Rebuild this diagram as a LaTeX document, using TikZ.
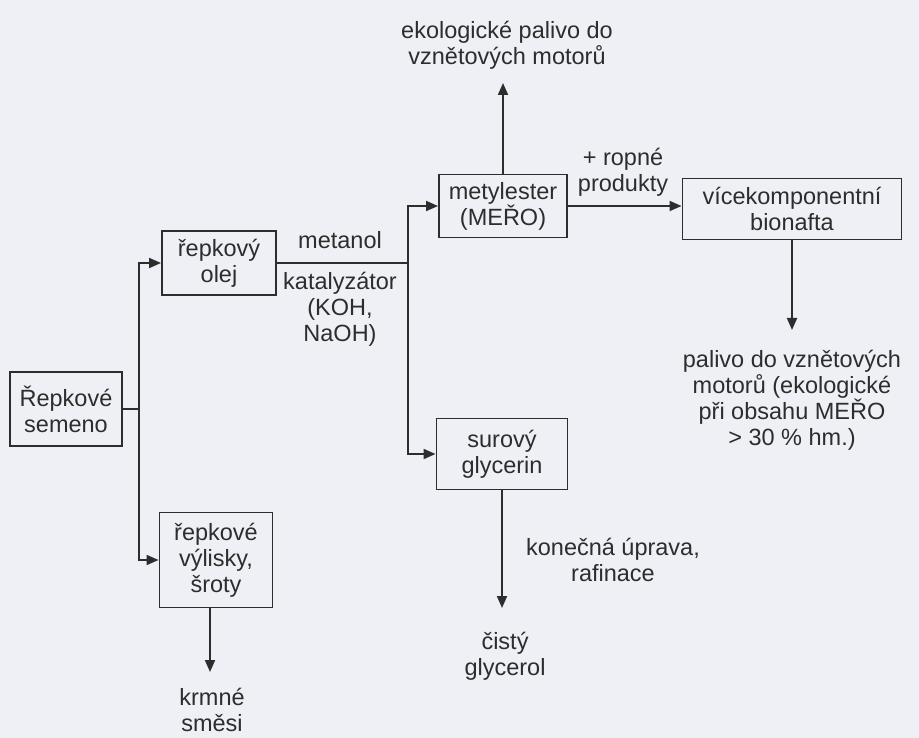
\documentclass[tikz,border=0pt]{standalone}
\usepackage{fontspec}
\setmainfont{Liberation Sans}
\usetikzlibrary{arrows.meta}
\definecolor{bgc}{RGB}{238,240,245}
\definecolor{ink}{RGB}{45,45,45}
\tikzset{
  box/.style={draw=ink, line width=1.9pt, align=center, inner sep=0pt, font=\fontsize{23.5}{26}\selectfont, text=ink},
  lbl/.style={align=center, inner sep=0pt, font=\fontsize{23.5}{26}\selectfont, text=ink},
  conn/.style={draw=ink, line width=1.9pt},
  arr/.style={conn, -{Triangle[length=12pt,width=10pt]}}
}
\begin{document}
\begin{tikzpicture}[x=1pt,y=-1pt]
\fill[bgc] (0,0) rectangle (919,738);
\useasboundingbox (0,0) rectangle (919,738);
% boxes
\node[box, minimum width=112, minimum height=74] (sem) at (66,409) {Řepkové\\semeno};
\node[box, minimum width=114, minimum height=64] (olej) at (219,263) {řepkový\\olej};
\node[box, minimum width=113, minimum height=95] (vyl) at (216,560) {řepkové\\výlisky,\\šroty};
\node[box, minimum width=128, minimum height=63] (mety) at (503,206) {metylester\\(MEŘO)};
\node[box, minimum width=219, minimum height=61] (bion) at (792,209) {vícekomponentní\\bionafta};
\node[box, minimum width=131, minimum height=71] (gly) at (502,454) {surový\\glycerin};
% labels
\node[lbl] (eko) at (507,45) {ekologické palivo do\\vznětových motorů};
\node[lbl] (rop) at (623,172) {+ ropné\\produkty};
\node[lbl] (met) at (340,240) {metanol};
\node[lbl] (kat) at (340,309) {katalyzátor\\(KOH,\\NaOH)};
\node[lbl] (pal) at (792,400) {palivo do vznětových\\motorů (ekologické\\při obsahu MEŘO\\> 30 \% hm.)};
\node[lbl] (kon) at (613,560) {konečná úprava,\\rafinace};
\node[lbl] (cis) at (505,656) {čistý\\glycerol};
\node[lbl] (krm) at (212,710) {krmné\\směsi};
% junctions and free ends
\coordinate (j1) at (139,409);
\coordinate (j2) at (408,263);
\coordinate (e1) at (503,83);
\coordinate (e2) at (792,330);
\coordinate (e3) at (502,608);
\coordinate (e4) at (210,672);
% connectors
\draw[conn] (sem.east) -- (j1);
\draw[arr] (j1) |- (olej.west);
\draw[arr] (j1) |- (vyl.west);
\draw[conn] (olej.east) -- (j2);
\draw[arr] (j2) |- (mety.west);
\draw[arr] (j2) |- (gly.west);
\draw[arr] (mety.north) -- (e1);
\draw[arr] (mety.east) -- (mety.east -| bion.west);
\draw[arr] (bion.south) -- (e2);
\draw[arr] (gly.south) -- (e3);
\draw[arr] (vyl.south -| e4) -- (e4);
\end{tikzpicture}
\end{document}
